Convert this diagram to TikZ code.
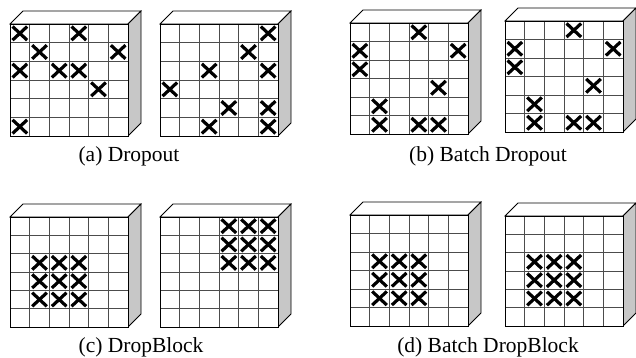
\documentclass[tikz,border=0pt]{standalone}
\usepackage{fontspec}
\setmainfont{Liberation Serif}
\tikzset{
  topface/.style={draw=black, line width=0.8pt, fill=white, line join=miter},
  sideface/.style={draw=black, line width=0.8pt, fill=black!22, line join=miter},
  gridline/.style={draw=black!70, line width=0.7pt},
  frontframe/.style={draw=black, line width=0.8pt},
  crossline/.style={draw=black, line width=3.2pt},
  caption/.style={font=\fontsize{21.5}{24}\selectfont, inner sep=0pt, anchor=base},
}
% #1 x, #2 y (top-left of front face), #3 height, #4 list col/row
\newcommand{\featcube}[4]{%
  \begin{scope}[shift={(#1,#2)}]
    \path[topface] (0,0) -- (13,-13) -- (131,-13) -- (118,0) -- cycle;
    \path[sideface] (118,0) -- (131,-13) -- (131,#3-13) -- (118,#3) -- cycle;
    \fill[white] (0,0) rectangle (118,#3);
    \foreach \i in {1,...,5} {
      \draw[gridline] ({\i*118/6},0) -- ({\i*118/6},#3);
      \draw[gridline] (0,{\i*#3/6}) -- (118,{\i*#3/6});
    }
    \draw[frontframe] (0,0) rectangle (118,#3);
    \foreach \c/\r in {#4} {
      \draw[crossline] ({(\c+0.5)*118/6-7.3},{(\r+0.5)*#3/6-6.8}) -- ({(\c+0.5)*118/6+7.3},{(\r+0.5)*#3/6+6.8});
      \draw[crossline] ({(\c+0.5)*118/6-7.3},{(\r+0.5)*#3/6+6.8}) -- ({(\c+0.5)*118/6+7.3},{(\r+0.5)*#3/6-6.8});
    }
  \end{scope}}
\begin{document}
\begin{tikzpicture}[x=1pt, y=-1pt]
  \useasboundingbox[fill=white] (0,0) rectangle (636,358);
  % (a) Dropout
  \featcube{10}{24}{112}{0/0,3/0,1/1,5/1,0/2,2/2,3/2,4/3,0/5}
  \featcube{160}{24}{112}{5/0,4/1,2/2,5/2,0/3,3/4,5/4,2/5,5/5}
  % (b) Batch Dropout
  \featcube{350}{23}{111}{3/0,0/1,5/1,0/2,4/3,1/4,1/5,3/5,4/5}
  \featcube{505}{21}{111}{3/0,0/1,5/1,0/2,4/3,1/4,1/5,3/5,4/5}
  % (c) DropBlock
  \featcube{10}{217}{110}{1/2,2/2,3/2,1/3,2/3,3/3,1/4,2/4,3/4}
  \featcube{160}{217}{110}{3/0,4/0,5/0,3/1,4/1,5/1,3/2,4/2,5/2}
  % (d) Batch DropBlock
  \featcube{350}{215}{111}{1/2,2/2,3/2,1/3,2/3,3/3,1/4,2/4,3/4}
  \featcube{505}{216}{110}{1/2,2/2,3/2,1/3,2/3,3/3,1/4,2/4,3/4}
  % captions
  \node[caption] (capa) at (129,161) {(a) Dropout};
  \node[caption] (capb) at (488,161) {(b) Batch Dropout};
  \node[caption] (capc) at (141,352) {(c) DropBlock};
  \node[caption] (capd) at (488,352) {(d) Batch DropBlock};
\end{tikzpicture}
\end{document}
